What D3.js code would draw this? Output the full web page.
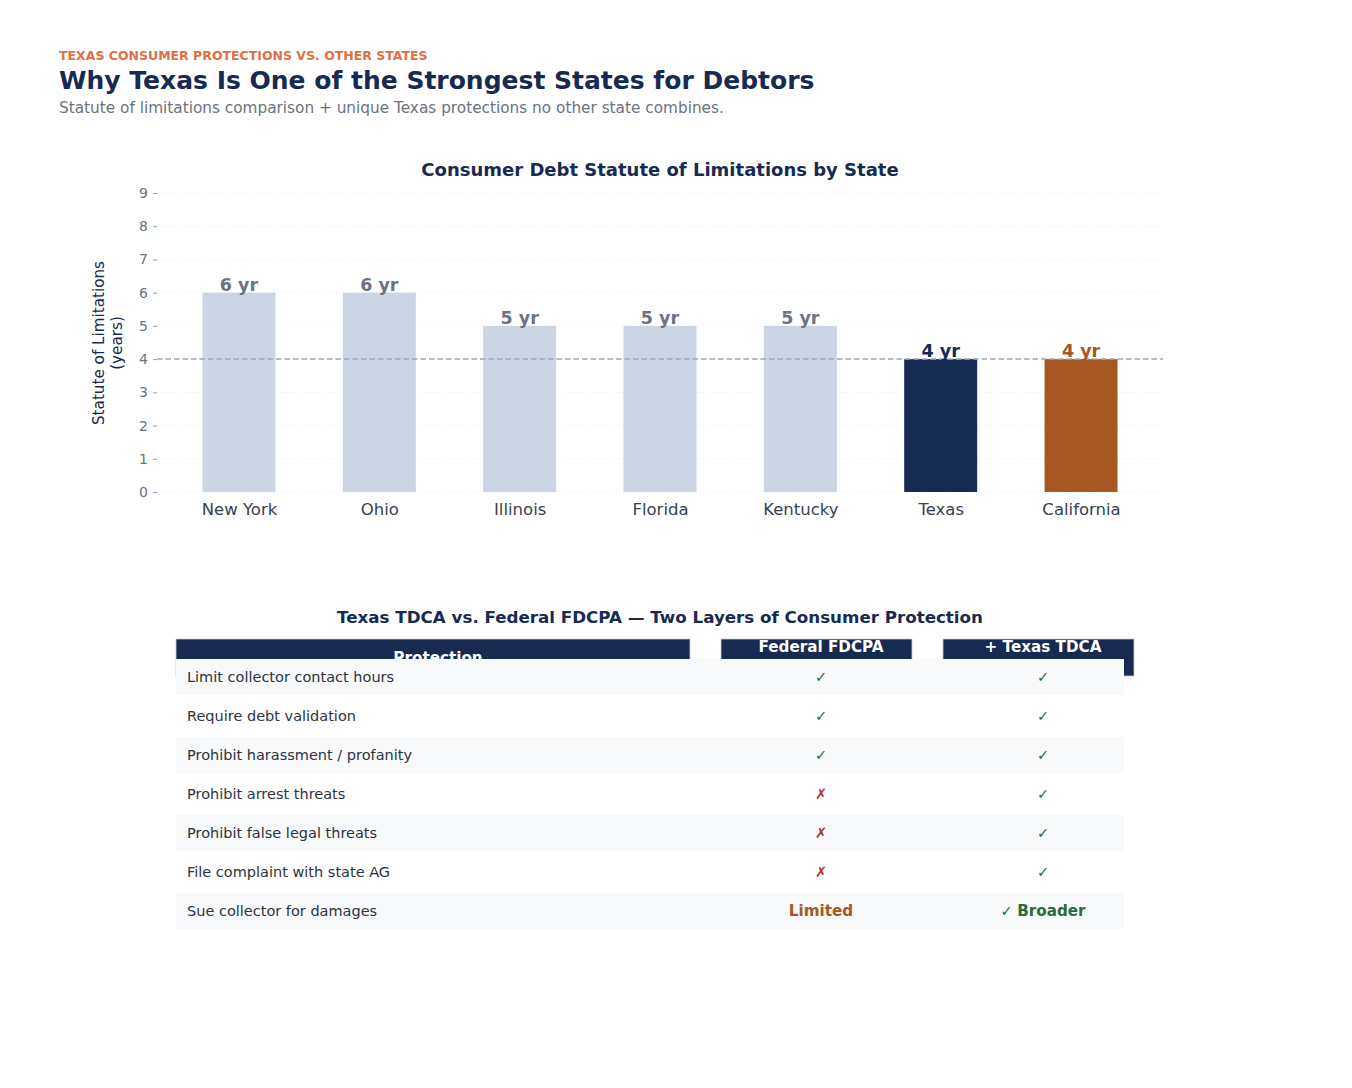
<!DOCTYPE html>
<html>
<head>
<meta charset="utf-8">
<style>
  body { margin: 0; background: #fff; }
  svg { font-family: "DejaVu Sans", sans-serif; }
</style>
</head>
<body>
<svg width="1352" height="1088"></svg>
<script src="https://d3js.org/d3.v7.min.js"></script>
<script>

var states = ["New York", "Ohio", "Illinois", "Florida", "Kentucky", "Texas", "California"],
    years = [6, 6, 5, 5, 5, 4, 4],
    yTicks = [0, 1, 2, 3, 4, 5, 6, 7, 8, 9],
    texasLine = 4;

var protections = [
  "Limit collector contact hours",
  "Require debt validation",
  "Prohibit harassment / profanity",
  "Prohibit arrest threats",
  "Prohibit false legal threats",
  "File complaint with state AG",
  "Sue collector for damages"
];
var federal = ["yes", "yes", "yes", "no", "no", "no", "Limited"],
    texas = ["yes", "yes", "yes", "yes", "yes", "yes", "Broader"];
var headers = [["Protection"], ["Federal FDCPA", "(All States)"], ["+ Texas TDCA", "(Texas Only)"]];

var navy = "#172a52", orange = "#a65722", light = "#cbd5e3", grey = "#6b7280",
    green = "#2e6b3a", red = "#b03030";

var svg = d3.select("svg");

// heading
svg.append("text").attr("x", 59).attr("y", 60)
    .attr("font-size", 12.5).attr("font-weight", "bold").attr("fill", "#e07040")
    .text("TEXAS CONSUMER PROTECTIONS VS. OTHER STATES");
svg.append("text").attr("x", 59).attr("y", 89)
    .attr("font-size", 25).attr("font-weight", "bold").attr("fill", navy)
    .text("Why Texas Is One of the Strongest States for Debtors");
svg.append("text").attr("x", 59).attr("y", 113)
    .attr("font-size", 15.3).attr("fill", grey)
    .text("Statute of limitations comparison + unique Texas protections no other state combines.");

// bar chart
var plotL = 157, plotR = 1163, plotT = 193, plotB = 492;

var x = d3.scaleLinear().domain([-0.584, states.length - 1 + 0.584]).range([plotL, plotR]),
    y = d3.scaleLinear().domain([0, 9]).range([plotB, plotT]),
    barW = 0.52 * (x(1) - x(0));

svg.append("text").attr("x", 660).attr("y", 176).attr("text-anchor", "middle")
    .attr("font-size", 18).attr("font-weight", "bold").attr("fill", navy)
    .text("Consumer Debt Statute of Limitations by State");

var g = svg.append("g");

g.selectAll("line.grid").data(yTicks).enter().append("line")
    .attr("class", "grid")
    .attr("x1", plotL).attr("x2", plotR)
    .attr("y1", function(d) { return y(d); }).attr("y2", function(d) { return y(d); })
    .attr("stroke", "#e6e8ee").attr("stroke-width", 0.8).attr("stroke-dasharray", "1,2");

g.selectAll("rect.bar").data(years).enter().append("rect")
    .attr("class", "bar")
    .attr("x", function(d, i) { return x(i) - barW / 2; })
    .attr("y", function(d) { return y(d); })
    .attr("width", barW)
    .attr("height", function(d) { return y(0) - y(d); })
    .attr("fill", function(d, i) { return states[i] === "Texas" ? navy : states[i] === "California" ? orange : light; });

g.append("line")
    .attr("x1", plotL).attr("x2", plotR)
    .attr("y1", y(texasLine)).attr("y2", y(texasLine))
    .attr("stroke", "#a3a6ba").attr("stroke-width", 1.5).attr("stroke-dasharray", "5.5,3");

g.selectAll("text.val").data(years).enter().append("text")
    .attr("class", "val")
    .attr("x", function(d, i) { return x(i); })
    .attr("y", function(d) { return y(d) - 2; })
    .attr("text-anchor", "middle").attr("font-size", 17.5).attr("font-weight", "bold")
    .attr("fill", function(d, i) { return states[i] === "Texas" ? navy : states[i] === "California" ? orange : grey; })
    .text(function(d) { return d + " yr"; });

var yAxis = g.append("g").attr("transform", "translate(" + plotL + ",0)")
    .call(d3.axisLeft(y).tickValues(yTicks).tickSize(4).tickPadding(5));
yAxis.select(".domain").remove();
yAxis.selectAll(".tick line").attr("stroke", "#9aa0aa");
yAxis.selectAll(".tick text").attr("fill", grey).attr("font-size", 14)
    .attr("font-family", "DejaVu Sans");

var xAxis = g.append("g").attr("transform", "translate(0," + plotB + ")")
    .call(d3.axisBottom(x).tickValues(d3.range(states.length)).tickSize(0).tickPadding(11)
      .tickFormat(function(i) { return states[i]; }));
xAxis.select(".domain").remove();
xAxis.selectAll(".tick text").attr("fill", "#374151").attr("font-size", 16.5)
    .attr("font-family", "DejaVu Sans");

var yl = svg.append("text").attr("transform", "translate(106,343) rotate(-90)")
    .attr("text-anchor", "middle").attr("font-size", 15.2).attr("fill", navy);
yl.append("tspan").attr("x", 0).attr("dy", "-0.15em").text("Statute of Limitations");
yl.append("tspan").attr("x", 0).attr("dy", "1.2em").text("(years)");

// table
svg.append("text").attr("x", 660).attr("y", 623).attr("text-anchor", "middle")
    .attr("font-size", 16.7).attr("font-weight", "bold").attr("fill", navy)
    .text("Texas TDCA vs. Federal FDCPA \u2014 Two Layers of Consumer Protection");

var cols = [{x0: 176, x1: 690}, {x0: 721, x1: 912}, {x0: 943, x1: 1134}],
    colCenter = [438, 821, 1043],
    headTop = 639, headBottom = 676,
    rowTop = 659, rowH = 39, rowLeft = 176, rowRight = 1124;

var head = svg.append("g");
head.selectAll("rect").data(cols).enter().append("rect")
    .attr("x", function(d) { return d.x0; }).attr("y", headTop)
    .attr("width", function(d) { return d.x1 - d.x0; }).attr("height", headBottom - headTop)
    .attr("fill", navy).attr("stroke", "#c8ccd6").attr("stroke-width", 0.8);
headers.forEach(function(lines, c) {
  var t = head.append("text").attr("text-anchor", "middle")
      .attr("font-size", 15.2).attr("font-weight", "bold").attr("fill", "#fff");
  if (lines.length === 1) {
    t.attr("x", colCenter[c]).attr("y", 663).text(lines[0]);
  } else {
    t.append("tspan").attr("x", colCenter[c]).attr("y", 652).text(lines[0]);
    t.append("tspan").attr("x", colCenter[c]).attr("y", 671).text(lines[1]);
  }
});

var rows = svg.selectAll("g.row").data(protections).enter().append("g")
    .attr("class", "row")
    .attr("transform", function(d, i) { return "translate(0," + (rowTop + i * rowH) + ")"; });

rows.append("rect").attr("x", rowLeft).attr("width", rowRight - rowLeft).attr("height", rowH - 3)
    .attr("fill", function(d, i) { return i % 2 === 0 ? "#f8f9fb" : "#fff"; });

rows.append("text").attr("x", 187).attr("y", 23).attr("font-size", 14.5).attr("fill", "#2d3340")
    .text(function(d) { return d; });

function cell(sel, vals, c) {
  sel.each(function(d, i) {
    var v = vals[i], t = d3.select(this).append("text")
        .attr("x", colCenter[c]).attr("y", 23).attr("text-anchor", "middle").attr("font-size", 14.5);
    if (v === "yes") t.attr("fill", green).text("\u2713");
    else if (v === "no") t.attr("fill", red).text("\u2717");
    else if (v === "Limited") t.attr("fill", orange).attr("font-weight", "bold").attr("font-size", 15.2).text(v);
    else {
      t.attr("font-size", 15.2);
      t.append("tspan").attr("fill", green).attr("font-size", 14.5).text("\u2713 ");
      t.append("tspan").attr("fill", green).attr("font-weight", "bold").text(v);
    }
  });
}
cell(rows, federal, 1);
cell(rows, texas, 2);

</script>
</body>
</html>
